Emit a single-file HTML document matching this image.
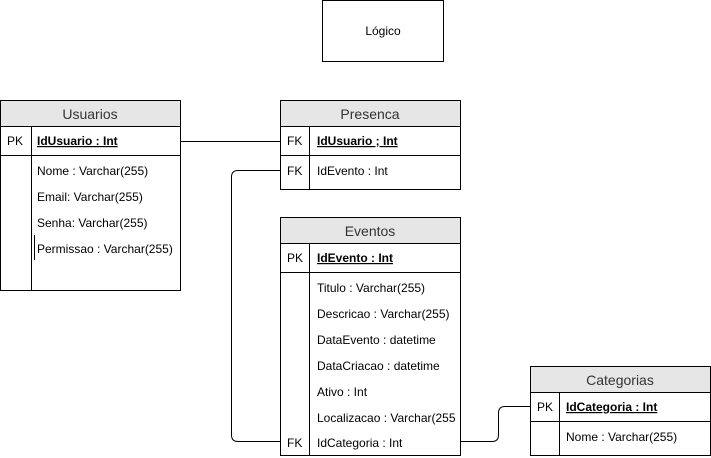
<!DOCTYPE html>
<html><head><meta charset="utf-8"><style>body{margin:0;background:#fff}svg{display:block}text{font-family:"Liberation Sans",Arial,sans-serif;font-size:12px;fill:#000}.h{font-size:14px;fill:#333}.b{font-weight:bold;text-decoration:underline}</style></head><body>
<svg width="711" height="458" viewBox="0 0 711 458" xmlns="http://www.w3.org/2000/svg">
<g fill="none" stroke="#000" stroke-width="1">
<rect x="322.5" y="0.5" width="121" height="61"/>
<!-- connectors -->
<path d="M180 141.5H280"/>
<path d="M280 170.5H238Q231.5 170.5 231.5 177V435Q231.5 441.5 238 441.5H280"/>
<path d="M460 441.5H492Q498.5 441.5 498.5 435V413Q498.5 406.5 505 406.5H530"/>
</g>
<!-- Usuarios -->
<rect x="0.5" y="100.5" width="180" height="190" fill="#fff" stroke="#000"/>
<rect x="0.5" y="100.5" width="180" height="26" fill="#e6e6e6" stroke="#000"/>
<path d="M0 155.5H180M31.5 126V290" stroke="#000"/>
<path d="M34.5 235V260" stroke="#000"/>
<text x="90" y="119" text-anchor="middle" class="h">Usuarios</text>
<text x="7" y="145">PK</text><text x="37" y="145" class="b">IdUsuario : Int</text>
<text x="37" y="175">Nome : Varchar(255)</text>
<text x="37" y="201">Email: Varchar(255)</text>
<text x="37" y="227">Senha: Varchar(255)</text>
<text x="37" y="253">Permissao : Varchar(255)</text>
<!-- Presenca -->
<rect x="280.5" y="100.5" width="180" height="89" fill="#fff" stroke="#000"/>
<rect x="280.5" y="100.5" width="180" height="26" fill="#e6e6e6" stroke="#000"/>
<path d="M280 155.5H460M309.5 126V189" stroke="#000"/>
<text x="370" y="119" text-anchor="middle" class="h">Presenca</text>
<text x="287" y="145">FK</text><text x="317" y="145" class="b">IdUsuario ; Int</text>
<text x="287" y="175">FK</text><text x="317" y="175">IdEvento : Int</text>
<!-- Eventos -->
<rect x="280.5" y="217.5" width="180" height="238" fill="#fff" stroke="#000"/>
<rect x="280.5" y="217.5" width="180" height="26" fill="#e6e6e6" stroke="#000"/>
<path d="M280 272.5H460M309.5 243V455" stroke="#000"/>
<text x="370" y="236" text-anchor="middle" class="h">Eventos</text>
<text x="287" y="262">PK</text><text x="317" y="262" class="b">IdEvento : Int</text>
<text x="317" y="292">Titulo : Varchar(255)</text>
<text x="317" y="318">Descricao : Varchar(255)</text>
<text x="317" y="344">DataEvento : datetime</text>
<text x="317" y="370">DataCriacao : datetime</text>
<text x="317" y="396">Ativo : Int</text>
<text x="317" y="422">Localizacao : Varchar(255</text>
<text x="287" y="447">FK</text><text x="317" y="447">IdCategoria : Int</text>
<!-- Categorias -->
<rect x="530.5" y="366.5" width="180" height="89" fill="#fff" stroke="#000"/>
<rect x="530.5" y="366.5" width="180" height="26" fill="#e6e6e6" stroke="#000"/>
<path d="M530 421.5H710M559.5 392V455" stroke="#000"/>
<text x="620" y="385" text-anchor="middle" class="h">Categorias</text>
<text x="537" y="411">PK</text><text x="566" y="411" class="b">IdCategoria : Int</text>
<text x="566" y="441">Nome : Varchar(255)</text>
<text x="383" y="35" text-anchor="middle">Lógico</text>
</svg>
</body></html>
